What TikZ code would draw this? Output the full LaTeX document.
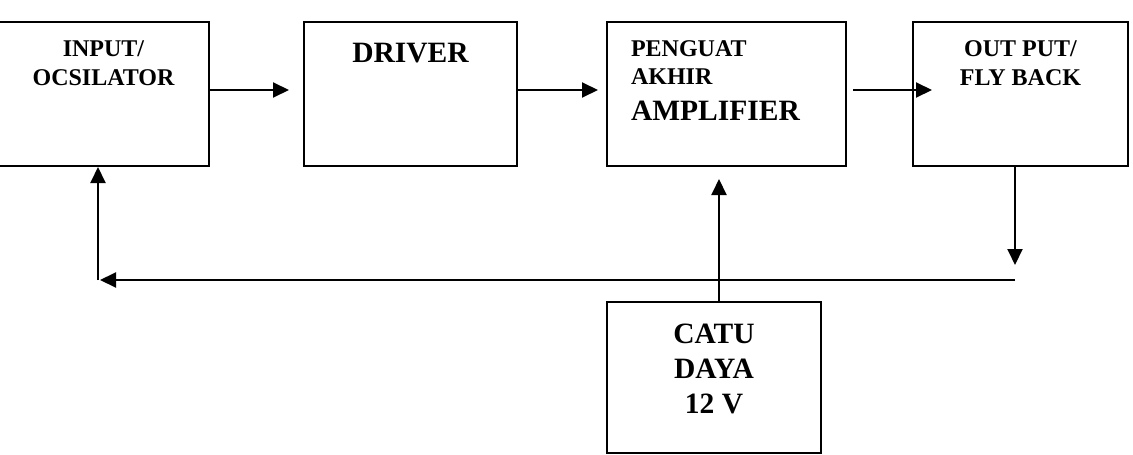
\documentclass[tikz,border=0pt]{standalone}
\usepackage{fontspec}
\setmainfont{Liberation Serif}
\usetikzlibrary{positioning, arrows.meta}

\begin{document}
\begin{tikzpicture}[x=1pt,y=-1pt,line width=2pt,>={Triangle[length=16pt,width=15pt]},
    blok/.style={draw,rectangle,minimum height=144pt,inner sep=0pt},
    kecil/.style={font=\bfseries\fontsize{24}{29}\selectfont,align=center,inner sep=0pt},
    besar/.style={font=\bfseries\fontsize{29.5}{35}\selectfont,align=center,inner sep=0pt}]
    \useasboundingbox (0,0) rectangle (1133,455);

    \node[blok,minimum width=211pt] (osc) at (103.5,94) {};
    \node[blok,minimum width=213pt] (driver) at (410.5,94) {};
    \node[blok,minimum width=239pt] (penguat) at (726.5,94) {};
    \node[blok,minimum width=215pt] (output) at (1020.5,94) {};
    \node[blok,minimum width=214pt,minimum height=151pt] (catu) at (714,377.5) {};

    \node[kecil] (oscteks) [below=18.5pt of osc.north] {INPUT/\\OCSILATOR};
    \node[besar] (driverteks) [below=21pt of driver.north] {DRIVER};
    \node[kecil,align=left,font=\bfseries\fontsize{24}{28}\selectfont] (penguatteks) [below right=19pt and 24pt of penguat.north west] {PENGUAT\\AKHIR};
    \node[besar] (amplifier) [below right=14.5pt and 0pt of penguatteks.south west] {AMPLIFIER};
    \node[kecil] (outputteks) [below=18.5pt of output.north] {OUT PUT/\\FLY BACK};
    \node[besar] (catuteks) [below=21.7pt of catu.north] {CATU\\DAYA\\12 V};

    \coordinate (balik) at (1015,280);
    \coordinate (sudut) at (98,280);

    \draw[->,shorten >=14pt] ([yshift=4pt]osc.east) -- ([yshift=4pt]driver.west);
    \draw[->,shorten >=8pt] ([yshift=4pt]driver.east) -- ([yshift=4pt]penguat.west);
    \draw[->,shorten <=6pt,shorten >=-20pt] ([yshift=4pt]penguat.east) -- ([yshift=4pt]output.west);
    \draw[->,shorten >=15pt] ([xshift=-5.5pt]output.south) -- (balik);
    \draw[->,shorten >=2pt] (balik) -- (sudut);
    \draw[->] (sudut) -- ([xshift=-5.5pt]osc.south);
    \draw[->,shorten >=12pt] ([xshift=5pt]catu.north) -- ([xshift=-7.5pt]penguat.south);
\end{tikzpicture}
\end{document}
